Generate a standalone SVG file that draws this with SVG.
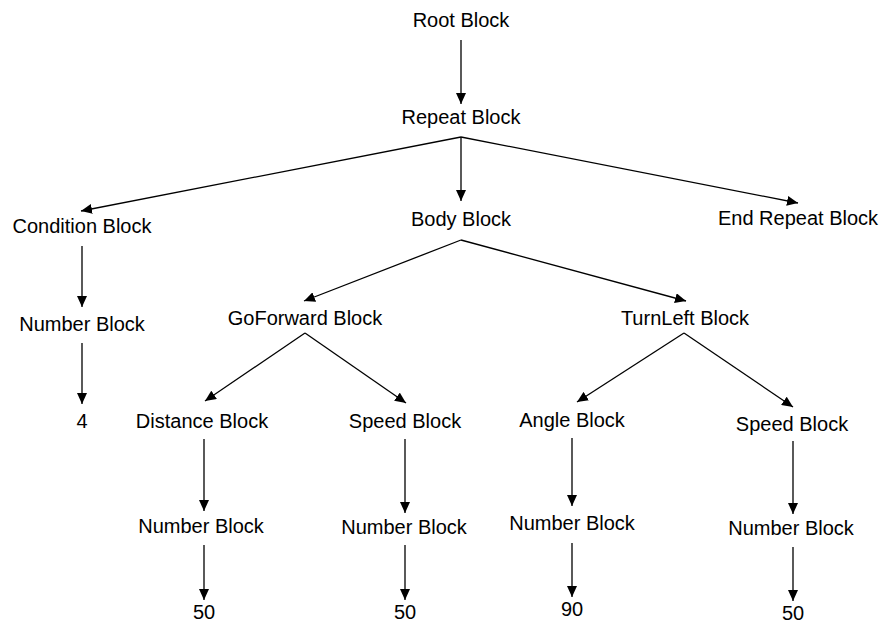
<svg xmlns="http://www.w3.org/2000/svg" width="880" height="623" viewBox="0 0 880 623">
<defs>
<style>
text{font-family:"Liberation Sans",Arial,sans-serif;font-size:20px;fill:#000;text-anchor:middle}
.c line{stroke:#000;stroke-width:1.3;marker-end:url(#ah)}
</style>
<marker id="ah" markerUnits="userSpaceOnUse" markerWidth="12" markerHeight="10" refX="11" refY="5" orient="auto">
<path d="M0,0 L11,5 L0,10 Z" fill="#000"/>
</marker>
</defs>
<rect width="880" height="623" fill="#fff"/>
<g class="c" id="connectors">
<line x1="461" y1="40" x2="461" y2="104"/>
<line x1="461" y1="137" x2="81" y2="211"/>
<line x1="461" y1="137" x2="461" y2="201"/>
<line x1="461" y1="137" x2="798" y2="203"/>
<line x1="82" y1="246" x2="82" y2="307"/>
<line x1="82" y1="343" x2="82" y2="404"/>
<line x1="461" y1="240" x2="304" y2="301"/>
<line x1="461" y1="240" x2="686" y2="301"/>
<line x1="305" y1="333" x2="205" y2="401"/>
<line x1="305" y1="333" x2="406" y2="403"/>
<line x1="684" y1="333" x2="577" y2="402"/>
<line x1="684" y1="333" x2="793" y2="407"/>
<line x1="204" y1="439" x2="204" y2="511"/>
<line x1="405" y1="439" x2="405" y2="513"/>
<line x1="572" y1="438" x2="572" y2="506"/>
<line x1="793" y1="441" x2="793" y2="514"/>
<line x1="204" y1="545" x2="204" y2="600"/>
<line x1="405" y1="545" x2="405" y2="600"/>
<line x1="572" y1="543" x2="572" y2="597"/>
<line x1="793" y1="547" x2="793" y2="601"/>
</g>
<g id="root"><text x="461" y="27">Root Block</text></g>
<g id="repeat"><text x="461" y="124">Repeat Block</text></g>
<g id="condition"><text x="82" y="233">Condition Block</text></g>
<g id="body"><text x="461" y="226">Body Block</text></g>
<g id="endrepeat"><text x="798" y="225">End Repeat Block</text></g>
<g id="number1"><text x="82" y="331">Number Block</text></g>
<g id="val4"><text x="82" y="428">4</text></g>
<g id="goforward"><text x="305" y="325">GoForward Block</text></g>
<g id="turnleft"><text x="685" y="325">TurnLeft Block</text></g>
<g id="distance"><text x="202" y="428">Distance Block</text></g>
<g id="speed1"><text x="405" y="428">Speed Block</text></g>
<g id="angle"><text x="572" y="427">Angle Block</text></g>
<g id="speed2"><text x="792" y="431">Speed Block</text></g>
<g id="number2"><text x="201" y="533">Number Block</text></g>
<g id="number3"><text x="404" y="534">Number Block</text></g>
<g id="number4"><text x="572" y="530">Number Block</text></g>
<g id="number5"><text x="791" y="535">Number Block</text></g>
<g id="val50a"><text x="204" y="619">50</text></g>
<g id="val50b"><text x="405" y="619">50</text></g>
<g id="val90"><text x="572" y="616">90</text></g>
<g id="val50c"><text x="793" y="620">50</text></g>
</svg>
